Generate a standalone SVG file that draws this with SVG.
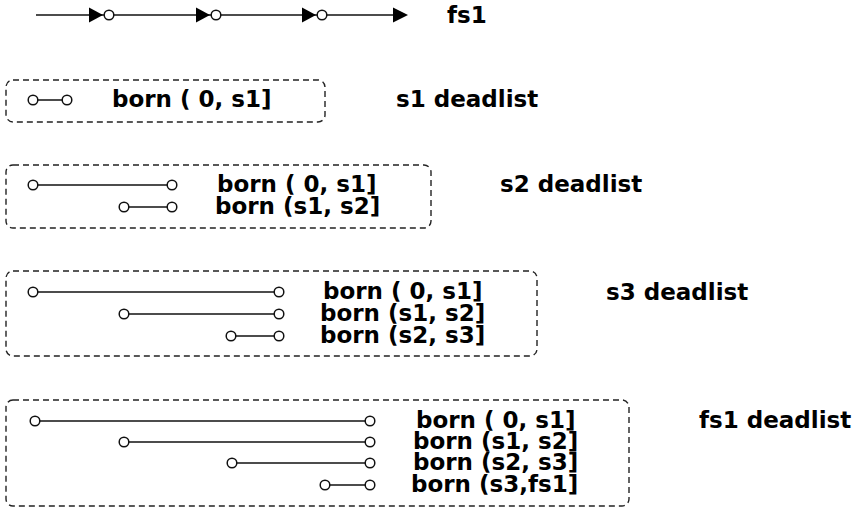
<svg xmlns="http://www.w3.org/2000/svg" width="857" height="508" viewBox="0 0 857 508">
<style>
text{font-family:"DejaVu Sans",sans-serif;font-weight:bold;font-size:23px;fill:#000}
.box{fill:none;stroke:#222;stroke-width:1.4;stroke-dasharray:6,4}
.ln{stroke:#111;stroke-width:1.5}
.c{fill:#fff;stroke:#111;stroke-width:1.5}
.tri{fill:#000}
</style>
<rect width="857" height="508" fill="#fff"/>
<g id="timeline">
<line class="ln" x1="36" y1="15" x2="395" y2="15"/>
<polygon class="tri" points="89,7.5 103,15 89,22.5"/>
<circle class="c" cx="109" cy="15" r="4.8"/>
<polygon class="tri" points="196,7.5 210,15 196,22.5"/>
<circle class="c" cx="216" cy="15" r="4.8"/>
<polygon class="tri" points="302,7.5 316,15 302,22.5"/>
<circle class="c" cx="322" cy="15" r="4.8"/>
<polygon class="tri" points="393,7.5 408,15 393,22.5"/>
<text x="447" y="23">fs1</text>
</g>
<g id="s1">
<rect class="box" x="6" y="80" width="319" height="42" rx="7"/>
<line class="ln" x1="33" y1="100" x2="67" y2="100"/>
<circle class="c" cx="33" cy="100" r="4.8"/><circle class="c" cx="67" cy="100" r="4.8"/>
<text x="112" y="107">born ( 0, s1]</text>
<text x="396" y="107">s1 deadlist</text>
</g>
<g id="s2">
<rect class="box" x="6" y="165" width="425" height="63" rx="7"/>
<line class="ln" x1="33" y1="185" x2="172" y2="185"/>
<circle class="c" cx="33" cy="185" r="4.8"/><circle class="c" cx="172" cy="185" r="4.8"/>
<line class="ln" x1="124" y1="207" x2="172" y2="207"/>
<circle class="c" cx="124" cy="207" r="4.8"/><circle class="c" cx="172" cy="207" r="4.8"/>
<text x="217" y="192">born ( 0, s1]</text>
<text x="215" y="214">born (s1, s2]</text>
<text x="500" y="192">s2 deadlist</text>
</g>
<g id="s3">
<rect class="box" x="6" y="271" width="531" height="85" rx="7"/>
<line class="ln" x1="33" y1="292" x2="279" y2="292"/>
<circle class="c" cx="33" cy="292" r="4.8"/><circle class="c" cx="279" cy="292" r="4.8"/>
<line class="ln" x1="124" y1="314" x2="279" y2="314"/>
<circle class="c" cx="124" cy="314" r="4.8"/><circle class="c" cx="279" cy="314" r="4.8"/>
<line class="ln" x1="231" y1="336" x2="279" y2="336"/>
<circle class="c" cx="231" cy="336" r="4.8"/><circle class="c" cx="279" cy="336" r="4.8"/>
<text x="323" y="299">born ( 0, s1]</text>
<text x="320" y="321">born (s1, s2]</text>
<text x="320" y="343">born (s2, s3]</text>
<text x="606" y="300">s3 deadlist</text>
</g>
<g id="fs1">
<rect class="box" x="6" y="400" width="623" height="106" rx="7"/>
<line class="ln" x1="35" y1="421" x2="370" y2="421"/>
<circle class="c" cx="35" cy="421" r="4.8"/><circle class="c" cx="370" cy="421" r="4.8"/>
<line class="ln" x1="124" y1="442" x2="370" y2="442"/>
<circle class="c" cx="124" cy="442" r="4.8"/><circle class="c" cx="370" cy="442" r="4.8"/>
<line class="ln" x1="232" y1="463" x2="370" y2="463"/>
<circle class="c" cx="232" cy="463" r="4.8"/><circle class="c" cx="370" cy="463" r="4.8"/>
<line class="ln" x1="325" y1="485" x2="370" y2="485"/>
<circle class="c" cx="325" cy="485" r="4.8"/><circle class="c" cx="370" cy="485" r="4.8"/>
<text x="416" y="428">born ( 0, s1]</text>
<text x="413" y="449">born (s1, s2]</text>
<text x="413" y="470">born (s2, s3]</text>
<text x="411" y="492">born (s3,fs1]</text>
<text x="699" y="428">fs1 deadlist</text>
</g>
</svg>
